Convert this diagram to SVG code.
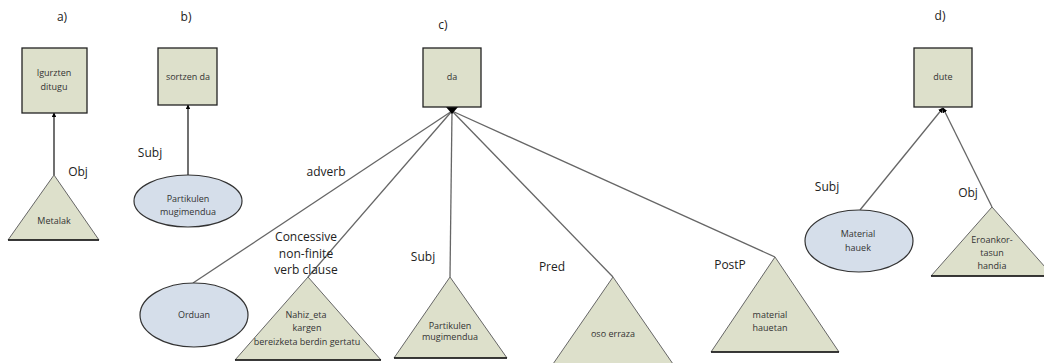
<svg xmlns="http://www.w3.org/2000/svg" width="1044" height="363" viewBox="0 0 1044 363">
<defs>
<style>
.box{fill:#dde0cb;stroke:#222;stroke-width:1.3}
.ell{fill:#d5deea;stroke:#333;stroke-width:1.2}
.tri{fill:#dde0cb;stroke:#666;stroke-width:1}
.base{stroke:#111;stroke-width:1.6}
.nt{font-family:"Open Sans","Liberation Sans",sans-serif;font-size:9px;fill:#333;text-anchor:middle}
.lb{font-family:"Open Sans","Liberation Sans",sans-serif;font-size:12px;fill:#222;text-anchor:middle}
.conn{stroke:#666;stroke-width:1.3;fill:none}
.connb{stroke:#111;stroke-width:1.2;fill:none}
</style>
<marker id="ah" viewBox="0 0 10 10" refX="9" refY="5" markerWidth="4" markerHeight="4" orient="auto"><path d="M0,0L10,5L0,10z" fill="#000"/></marker>
</defs>
<g id="labels">
<text class="lb" x="62" y="21">a)</text>
<text class="lb" x="186" y="21">b)</text>
<text class="lb" x="443" y="29">c)</text>
<text class="lb" x="940" y="20">d)</text>
</g>
<g id="connectors">
<line class="connb" x1="54" y1="175" x2="54" y2="113" marker-end="url(#ah)"/>
<line class="connb" x1="188" y1="175" x2="188" y2="105" marker-end="url(#ah)"/>
<line class="conn" x1="193" y1="283" x2="452" y2="111"/>
<line class="conn" x1="308" y1="277" x2="452" y2="111"/>
<line class="conn" x1="450" y1="277" x2="452" y2="111"/>
<line class="conn" x1="613" y1="277" x2="452" y2="111"/>
<line class="conn" x1="775" y1="257" x2="452" y2="111"/>
<path d="M446,107L458,107L452,114z" fill="#000"/>
<line class="conn" x1="860" y1="210" x2="943" y2="108" marker-end="url(#ah)"/>
<line class="conn" x1="992" y1="207" x2="943" y2="108" marker-end="url(#ah)"/>
<text class="lb" x="78" y="176">Obj</text>
<text class="lb" x="150" y="157">Subj</text>
<text class="lb" x="326" y="176">adverb</text>
<text class="lb" x="306" y="241">Concessive</text>
<text class="lb" x="306" y="258">non-finite</text>
<text class="lb" x="306" y="274">verb clause</text>
<text class="lb" x="423" y="261">Subj</text>
<text class="lb" x="552" y="271">Pred</text>
<text class="lb" x="730" y="269">PostP</text>
<text class="lb" x="827" y="191">Subj</text>
<text class="lb" x="968" y="197">Obj</text>
</g>
<g id="n-a-root"><rect class="box" x="22" y="48" width="65" height="65"/><text class="nt" x="54" y="76">Igurzten</text><text class="nt" x="54" y="90">ditugu</text></g>
<g id="n-a-obj"><path class="tri" d="M54,175L8,240L99,240z"/><line class="base" x1="8" y1="240" x2="99" y2="240"/><text class="nt" x="54" y="224">Metalak</text></g>
<g id="n-b-root"><rect class="box" x="158" y="48" width="59" height="57"/><text class="nt" x="188" y="80">sortzen da</text></g>
<g id="n-b-subj"><ellipse class="ell" cx="188" cy="201" rx="54" ry="26"/><text class="nt" x="188" y="202">Partikulen</text><text class="nt" x="188" y="215">mugimendua</text></g>
<g id="n-c-root"><rect class="box" x="423" y="48" width="58" height="59"/><text class="nt" x="452" y="80">da</text></g>
<g id="n-c-adverb"><ellipse class="ell" cx="194" cy="315" rx="54" ry="32"/><text class="nt" x="194" y="318">Orduan</text></g>
<g id="n-c-conc"><path class="tri" d="M308,277L235,360L381,360z"/><line class="base" x1="235" y1="360" x2="381" y2="360"/><text class="nt" x="306" y="318">Nahiz_eta</text><text class="nt" x="307" y="331">kargen</text><text class="nt" x="307" y="345">bereizketa berdin gertatu</text></g>
<g id="n-c-subj"><path class="tri" d="M450,277L394,358L507,358z"/><line class="base" x1="394" y1="358" x2="507" y2="358"/><text class="nt" x="450" y="329">Partikulen</text><text class="nt" x="450" y="340">mugimendua</text></g>
<g id="n-c-pred"><path class="tri" d="M613,277L553,364L673,364z"/><text class="nt" x="613" y="337">oso erraza</text></g>
<g id="n-c-postp"><path class="tri" d="M775,257L711,352L839,352z"/><line class="base" x1="711" y1="352" x2="839" y2="352"/><text class="nt" x="770" y="318">material</text><text class="nt" x="770" y="331">hauetan</text></g>
<g id="n-d-root"><rect class="box" x="914" y="48" width="58" height="59"/><text class="nt" x="943" y="80">dute</text></g>
<g id="n-d-subj"><ellipse class="ell" cx="859" cy="241" rx="54" ry="31"/><text class="nt" x="858" y="237">Material</text><text class="nt" x="858" y="251">hauek</text></g>
<g id="n-d-obj"><path class="tri" d="M992,207L931,276L1053,276z"/><line class="base" x1="931" y1="276" x2="1053" y2="276"/><text class="nt" x="992" y="243">Eroankor-</text><text class="nt" x="992" y="256">tasun</text><text class="nt" x="992" y="269">handia</text></g>
</svg>
